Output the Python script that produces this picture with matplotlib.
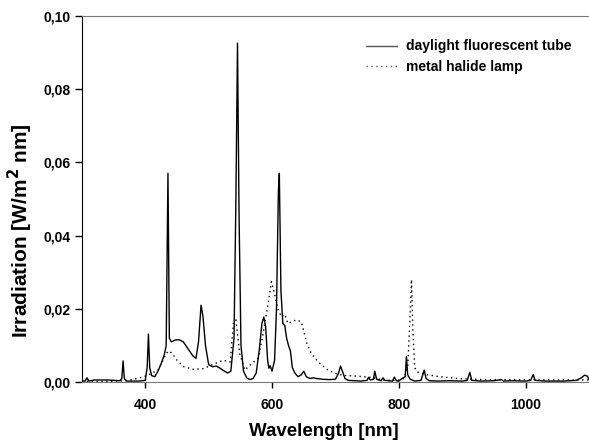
import numpy as np
import matplotlib
matplotlib.use("Agg")
import matplotlib.pyplot as plt

# daylight fluorescent tube (wavelength nm, irradiance W/m2 nm)
fl_wl = [300, 305, 308, 311, 320, 340, 360, 363, 365, 367, 370, 390, 400, 403, 405, 407,
         410, 415, 420, 425, 430, 433, 435.8, 438, 441, 447, 453, 460, 468, 475, 480, 484,
         488, 491, 495, 500, 506, 512, 518, 524, 530, 535, 540, 543, 545.5, 548, 551, 555,
         560, 565, 570, 575, 580, 584, 587, 590, 593, 595, 597, 600, 604, 607, 610, 611.5,
         614, 617, 620, 623, 626, 629, 632, 636, 641, 646, 650, 654, 660, 665, 670, 680,
         690, 700, 705, 708, 711, 715, 720, 740, 750, 752, 755, 760, 762, 765, 772, 775,
         778, 790, 793, 796, 800, 805, 810, 812, 814, 818, 825, 835, 840, 843, 848, 860,
         880, 900, 908, 912, 915, 930, 950, 962, 965, 980, 1000, 1008, 1012, 1015, 1030,
         1060, 1080, 1088, 1093, 1097, 1100]
fl_val = [0.0003, 0.0003, 0.0012, 0.0003, 0.0006, 0.0006, 0.0004, 0.001, 0.0058, 0.001,
          0.0003, 0.0003, 0.0005, 0.004, 0.0131, 0.004, 0.0018, 0.0015, 0.003, 0.005,
          0.0075, 0.0100, 0.057, 0.012, 0.011, 0.0115, 0.0116, 0.011, 0.009, 0.0072,
          0.0065, 0.011, 0.021, 0.018, 0.010, 0.0048, 0.0042, 0.0044, 0.0038, 0.0031,
          0.0025, 0.003, 0.012, 0.050, 0.0925, 0.045, 0.010, 0.003, 0.0012, 0.0007, 0.001,
          0.0025, 0.009, 0.016, 0.0178, 0.015, 0.006, 0.0038, 0.0045, 0.003, 0.006, 0.02,
          0.052, 0.057, 0.025, 0.016, 0.0155, 0.012, 0.010, 0.0085, 0.004, 0.0025, 0.0015,
          0.002, 0.003, 0.0015, 0.001, 0.0012, 0.001, 0.0008, 0.0007, 0.0008, 0.0025,
          0.0044, 0.003, 0.001, 0.0005, 0.0003, 0.0005, 0.0013, 0.0006, 0.0008, 0.003,
          0.0008, 0.0004, 0.0012, 0.0005, 0.0003, 0.0014, 0.0004, 0.0003, 0.001, 0.0015,
          0.007, 0.002, 0.0008, 0.0003, 0.0005, 0.0033, 0.001, 0.0004, 0.0003, 0.0004,
          0.0003, 0.0005, 0.0027, 0.0005, 0.0003, 0.0004, 0.0007, 0.0003, 0.0004, 0.0003,
          0.0005, 0.0021, 0.0005, 0.0003, 0.0003, 0.0005, 0.0012, 0.0019, 0.0017, 0.0008]

# metal halide lamp
mh_wl = [300, 340, 360, 380, 394, 404, 420, 428, 432, 436, 442, 450, 461, 476, 492, 513,
         523, 534, 539, 543, 549, 557, 565, 578, 586, 594, 599, 604, 609, 615, 620, 625,
         631, 638, 646, 650, 655, 662, 673, 688, 700, 711, 737, 758, 777, 798, 808, 814,
         817, 820, 822, 825, 829, 845, 861, 892, 934, 980, 1050, 1100]
mh_val = [0.0002, 0.0002, 0.0003, 0.0007, 0.0013, 0.0019, 0.0033, 0.006, 0.0074, 0.0085,
          0.0080, 0.006, 0.0042, 0.0035, 0.0037, 0.0053, 0.006, 0.0055, 0.016, 0.017,
          0.0078, 0.0033, 0.0046, 0.0065, 0.0133, 0.0215, 0.0274, 0.0242, 0.020, 0.0178,
          0.0185, 0.016, 0.0165, 0.017, 0.0165, 0.014, 0.0105, 0.0078, 0.0055, 0.0033,
          0.0024, 0.0019, 0.0016, 0.0013, 0.0005, 0.0005, 0.001, 0.004, 0.015, 0.028,
          0.015, 0.004, 0.0028, 0.002, 0.0016, 0.001, 0.0007, 0.0007, 0.0006, 0.0006]

x_ticks = [400, 600, 800, 1000]
y_ticks = [0.00, 0.02, 0.04, 0.06, 0.08, 0.10]
y_labels = ["0,00", "0,02", "0,04", "0,06", "0,08", "0,10"]

plt.rcParams['font.family'] = ['Liberation Sans', 'DejaVu Sans']
plt.rcParams['font.weight'] = 'bold'

fig = plt.figure(figsize=(5.89, 4.47), dpi=100)
ax = fig.add_axes([0.139, 0.145, 0.861, 0.82])

ax.plot(fl_wl, fl_val, color='black', lw=1.0, ls='-', label='daylight fluorescent tube')
ax.plot(mh_wl, mh_val, color='black', lw=1.0, ls=(0, (1, 2.5)), label='metal halide lamp')

ax.set_xlim(300, 1100)
ax.set_ylim(0, 0.10)
ax.set_xticks(x_ticks)
ax.set_xticklabels([str(t) for t in x_ticks])
ax.set_yticks(y_ticks)
ax.set_yticklabels(y_labels)
ax.tick_params(direction='out', width=1, labelsize=10)
ax.tick_params(axis='y', length=5, pad=3)
ax.tick_params(axis='x', length=4, pad=7.5)

ax.spines['right'].set_visible(False)
ax.spines['top'].set_color('#777777')
ax.spines['bottom'].set_color('#777777')
ax.spines['left'].set_color('black')

ax.set_xlabel('Wavelength [nm]', fontsize=13.5, fontweight='bold')
ax.xaxis.set_label_coords(0.478, -0.112)
ax.set_ylabel(r'Irradiation [W/m$^\mathbf{2}$ nm]', fontsize=15, fontweight='bold')
ax.yaxis.set_label_coords(-0.122, 0.414)
ax.yaxis.label.set_va('center')

leg = ax.legend(loc='upper left', bbox_to_anchor=(0.56, 0.935), frameon=False,
                borderpad=0, borderaxespad=0, fontsize=10, handlelength=2.25,
                handletextpad=0.65, labelspacing=0.45)
for h in leg.get_lines():
    h.set_color('#555555')

fig.savefig('out.png', dpi=100)
